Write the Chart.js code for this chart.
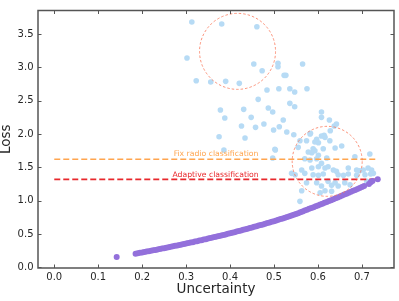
<!DOCTYPE html>
<html>
<head>
<meta charset="utf-8">
<script src="https://cdn.jsdelivr.net/npm/chart.js@4/dist/chart.umd.min.js"></script>
<style>
html,body{margin:0;padding:0;background:#fff;}
#wrap{width:399px;height:301px;position:relative;}
</style>
</head>
<body>
<div id="wrap"><canvas id="c" width="399" height="301"></canvas></div>
<script>
// ---------------- data ----------------
const xTicks = [0.0, 0.1, 0.2, 0.3, 0.4, 0.5, 0.6, 0.7];
const yTicks = [0.0, 0.5, 1.0, 1.5, 2.0, 2.5, 3.0, 3.5];
const xLabel = 'Uncertainty';
const yLabel = 'Loss';

// light blue samples (uncertainty, loss)
const scatterSamples = [
  [0.313,3.68],[0.381,3.65],[0.461,3.61],[0.302,3.14],[0.454,3.05],[0.509,3.06],[0.509,3.01],
  [0.565,3.05],[0.473,2.95],[0.523,2.88],[0.527,2.88],[0.323,2.80],[0.356,2.78],[0.390,2.79],
  [0.421,2.76],[0.484,2.66],[0.511,2.68],[0.536,2.68],[0.547,2.63],[0.575,2.68],[0.464,2.52],
  [0.536,2.46],[0.547,2.41],
  [0.378,2.36],[0.388,2.24],[0.431,2.37],[0.448,2.25],[0.487,2.39],[0.497,2.33],[0.426,2.12],
  [0.458,2.10],[0.477,2.15],[0.499,2.06],[0.512,2.11],[0.521,2.21],[0.529,2.03],[0.545,1.99],
  [0.583,2.01],[0.375,1.96],[0.434,1.94],[0.386,1.76],[0.502,1.77],[0.497,1.64],[0.608,2.33],
  [0.608,2.25],[0.626,2.21],[0.642,2.15],[0.637,2.12],[0.628,2.05],[0.614,1.98],[0.718,1.70],
  [0.608,1.97],[0.616,1.95],[0.597,1.92],[0.601,1.87],[0.627,1.90],[0.582,2.00],[0.574,1.90],
  [0.559,1.90],[0.654,1.82],[0.639,1.79],[0.555,1.80],[0.589,1.78],[0.593,1.75],[0.612,1.78],
  [0.578,1.73],[0.586,1.72],[0.601,1.68],[0.620,1.64],[0.570,1.63],[0.582,1.61],[0.597,1.63],
  [0.684,1.66],[0.608,1.56],[0.601,1.51],[0.616,1.49],[0.623,1.51],[0.586,1.49],[0.563,1.46],
  [0.570,1.41],[0.635,1.46],[0.642,1.44],[0.669,1.49],[0.688,1.46],[0.695,1.45],[0.703,1.46],
  [0.714,1.49],[0.722,1.46],[0.726,1.41],[0.540,1.41],[0.548,1.39],[0.589,1.39],[0.601,1.38],
  [0.612,1.40],[0.646,1.39],[0.658,1.38],[0.669,1.40],[0.688,1.38],[0.707,1.39],[0.623,1.29],
  [0.639,1.27],[0.646,1.22],[0.631,1.23],[0.597,1.27],[0.608,1.22],[0.661,1.27],[0.673,1.24],
  [0.574,1.27],[0.563,1.15],[0.616,1.15],[0.631,1.14],[0.559,0.99],[0.605,1.12],[0.711,1.29],
  [0.503,1.76],[0.593,1.88],[0.720,1.40]
];

// purple curve samples (uncertainty, loss)
const curveSamples = [
  [0.142,0.155],
  [0.185,0.205],[0.19,0.211],[0.195,0.217],[0.2,0.223],[0.205,0.229],[0.21,0.236],[0.215,0.242],
  [0.22,0.249],[0.225,0.255],[0.23,0.261],[0.235,0.268],[0.24,0.274],[0.245,0.281],[0.25,0.288],
  [0.255,0.294],[0.26,0.301],[0.265,0.308],[0.27,0.315],[0.275,0.322],[0.28,0.329],[0.285,0.336],
  [0.29,0.343],[0.295,0.350],[0.3,0.357],[0.305,0.364],[0.31,0.371],[0.315,0.378],[0.32,0.386],
  [0.325,0.393],[0.33,0.401],[0.335,0.408],[0.34,0.416],[0.345,0.423],[0.35,0.431],[0.355,0.439],
  [0.36,0.446],[0.365,0.454],[0.37,0.462],[0.375,0.470],[0.38,0.478],[0.385,0.486],[0.39,0.494],
  [0.395,0.503],[0.4,0.511],[0.405,0.519],[0.41,0.528],[0.415,0.536],[0.42,0.545],[0.425,0.553],
  [0.43,0.562],[0.435,0.571],[0.44,0.580],[0.445,0.589],[0.45,0.598],[0.455,0.607],[0.46,0.616],
  [0.465,0.626],[0.47,0.635],[0.475,0.644],[0.48,0.654],[0.485,0.664],[0.49,0.673],[0.495,0.683],
  [0.5,0.693],[0.505,0.703],[0.51,0.713],[0.515,0.724],[0.52,0.734],[0.525,0.745],[0.53,0.755],
  [0.535,0.766],[0.54,0.777],[0.545,0.789],[0.55,0.801],[0.555,0.813],[0.56,0.826],[0.565,0.838],
  [0.57,0.851],[0.575,0.864],[0.58,0.877],[0.585,0.890],[0.59,0.903],[0.595,0.916],[0.6,0.929],
  [0.605,0.942],[0.61,0.955],[0.615,0.968],[0.62,0.981],[0.625,0.994],[0.63,1.008],[0.635,1.021],
  [0.64,1.035],[0.645,1.049],[0.65,1.063],[0.655,1.077],[0.66,1.091],[0.665,1.105],[0.67,1.119],
  [0.675,1.133],[0.68,1.148],[0.685,1.162],[0.69,1.176],[0.695,1.191],[0.7,1.206],[0.705,1.221],
  [0.716,1.25],[0.72,1.275],[0.724,1.295],[0.736,1.32]
];

// threshold lines: [loss, xStart, xEnd]
const fixRadioLine = [1.62, 0.0, 0.735];
const adaptiveLine = [1.32, 0.0, 0.735];
const lineLabels = ['Fix radio classification', 'Adaptive classification'];
const labelAnchors = [[0.368, 1.70], [0.367, 1.39]];

// highlighted regions (circle centres: uncertainty, loss)
const circleCenters = [[0.417, 3.24], [0.621, 1.59]];

// ---------------- styles ----------------
const FONT = "'DejaVu Sans', sans-serif";
const circleRadiiPx = [38, 35];
const ORANGE = '#ffa54f';
const RED = '#e8282c';

const toPts = arr => arr.map(p => ({x: p[0], y: p[1]}));

const overlay = {
  id: 'overlay',
  afterDatasetsDraw(chart) {
    const {ctx, chartArea: a, scales: {x, y}} = chart;
    ctx.save();
    // dashed circles
    ctx.setLineDash([2.5, 2]);
    ctx.lineWidth = 1;
    ctx.strokeStyle = 'rgba(250,120,90,0.8)';
    circleCenters.forEach((c, i) => {
      ctx.beginPath();
      ctx.arc(x.getPixelForValue(c[0]), y.getPixelForValue(c[1]), circleRadiiPx[i], 0, Math.PI * 2);
      ctx.stroke();
    });
    ctx.setLineDash([]);
    // line labels
    ctx.font = "7.7px " + FONT;
    ctx.textAlign = 'center';
    ctx.textBaseline = 'middle';
    [ORANGE, RED].forEach((col, i) => {
      ctx.fillStyle = col;
      ctx.fillText(lineLabels[i], x.getPixelForValue(labelAnchors[i][0]), y.getPixelForValue(labelAnchors[i][1]));
    });
    // frame
    ctx.strokeStyle = '#555';
    ctx.lineWidth = 1.5;
    ctx.strokeRect(a.left, a.top, a.right - a.left, a.bottom - a.top);
    // inward ticks on all sides
    ctx.lineWidth = 1;
    const L = 3.5;
    ctx.beginPath();
    xTicks.forEach(v => {
      const px = Math.round(x.getPixelForValue(v)) + 0.5;
      ctx.moveTo(px, a.bottom); ctx.lineTo(px, a.bottom - L);
      ctx.moveTo(px, a.top); ctx.lineTo(px, a.top + L);
    });
    yTicks.forEach(v => {
      const py = Math.round(y.getPixelForValue(v)) + 0.5;
      ctx.moveTo(a.left, py); ctx.lineTo(a.left + L, py);
      ctx.moveTo(a.right, py); ctx.lineTo(a.right - L, py);
    });
    ctx.stroke();
    ctx.restore();
  }
};

new Chart(document.getElementById('c'), {
  type: 'scatter',
  data: {
    datasets: [
      {
        label: 'curve', data: toPts(curveSamples), order: 0,
        backgroundColor: '#9370db', borderColor: '#9370db', pointRadius: 3, borderWidth: 0
      },
      {
        label: 'adaptive', data: [{x: adaptiveLine[1], y: adaptiveLine[0]}, {x: adaptiveLine[2], y: adaptiveLine[0]}],
        order: 1, showLine: true, pointRadius: 0, borderColor: RED, borderWidth: 1.8, borderDash: [6, 3]
      },
      {
        label: 'fix', data: [{x: fixRadioLine[1], y: fixRadioLine[0]}, {x: fixRadioLine[2], y: fixRadioLine[0]}],
        order: 2, showLine: true, pointRadius: 0, borderColor: ORANGE, borderWidth: 1.5, borderDash: [6, 3]
      },
      {
        label: 'samples', data: toPts(scatterSamples), order: 3,
        backgroundColor: '#b7dbf5', borderColor: '#b7dbf5', pointRadius: 2.8, borderWidth: 0
      }
    ]
  },
  options: {
    responsive: false,
    animation: false,
    events: [],
    layout: {padding: {top: 3, right: 5, left: 0, bottom: 0}},
    plugins: {legend: {display: false}, tooltip: {enabled: false}},
    scales: {
      x: {
        type: 'linear', min: -0.037, max: 0.773,
        grid: {display: false, drawTicks: false},
        border: {display: false},
        afterBuildTicks: s => { s.ticks = xTicks.map(v => ({value: v})); },
        afterFit: s => { s.height = 33; },
        ticks: {padding: 3, color: '#262626', font: {family: FONT, size: 10}, callback: v => v.toFixed(1), maxRotation: 0, autoSkip: false},
        title: {display: true, text: xLabel, color: '#262626', font: {family: FONT, size: 13.5, lineHeight: 1}, padding: {top: 0, bottom: 5}}
      },
      y: {
        type: 'linear', min: -0.01, max: 3.853,
        grid: {display: false, drawTicks: false},
        border: {display: false},
        afterBuildTicks: s => { s.ticks = yTicks.map(v => ({value: v})); },
        afterFit: s => { s.width = 38; },
        ticks: {padding: 4.5, color: '#262626', font: {family: FONT, size: 10}, callback: v => v.toFixed(1), autoSkip: false},
        title: {display: true, text: yLabel, color: '#262626', font: {family: FONT, size: 13.5, lineHeight: 1}, padding: {top: 0, bottom: 0}}
      }
    }
  },
  plugins: [overlay]
});
</script>
</body>
</html>
